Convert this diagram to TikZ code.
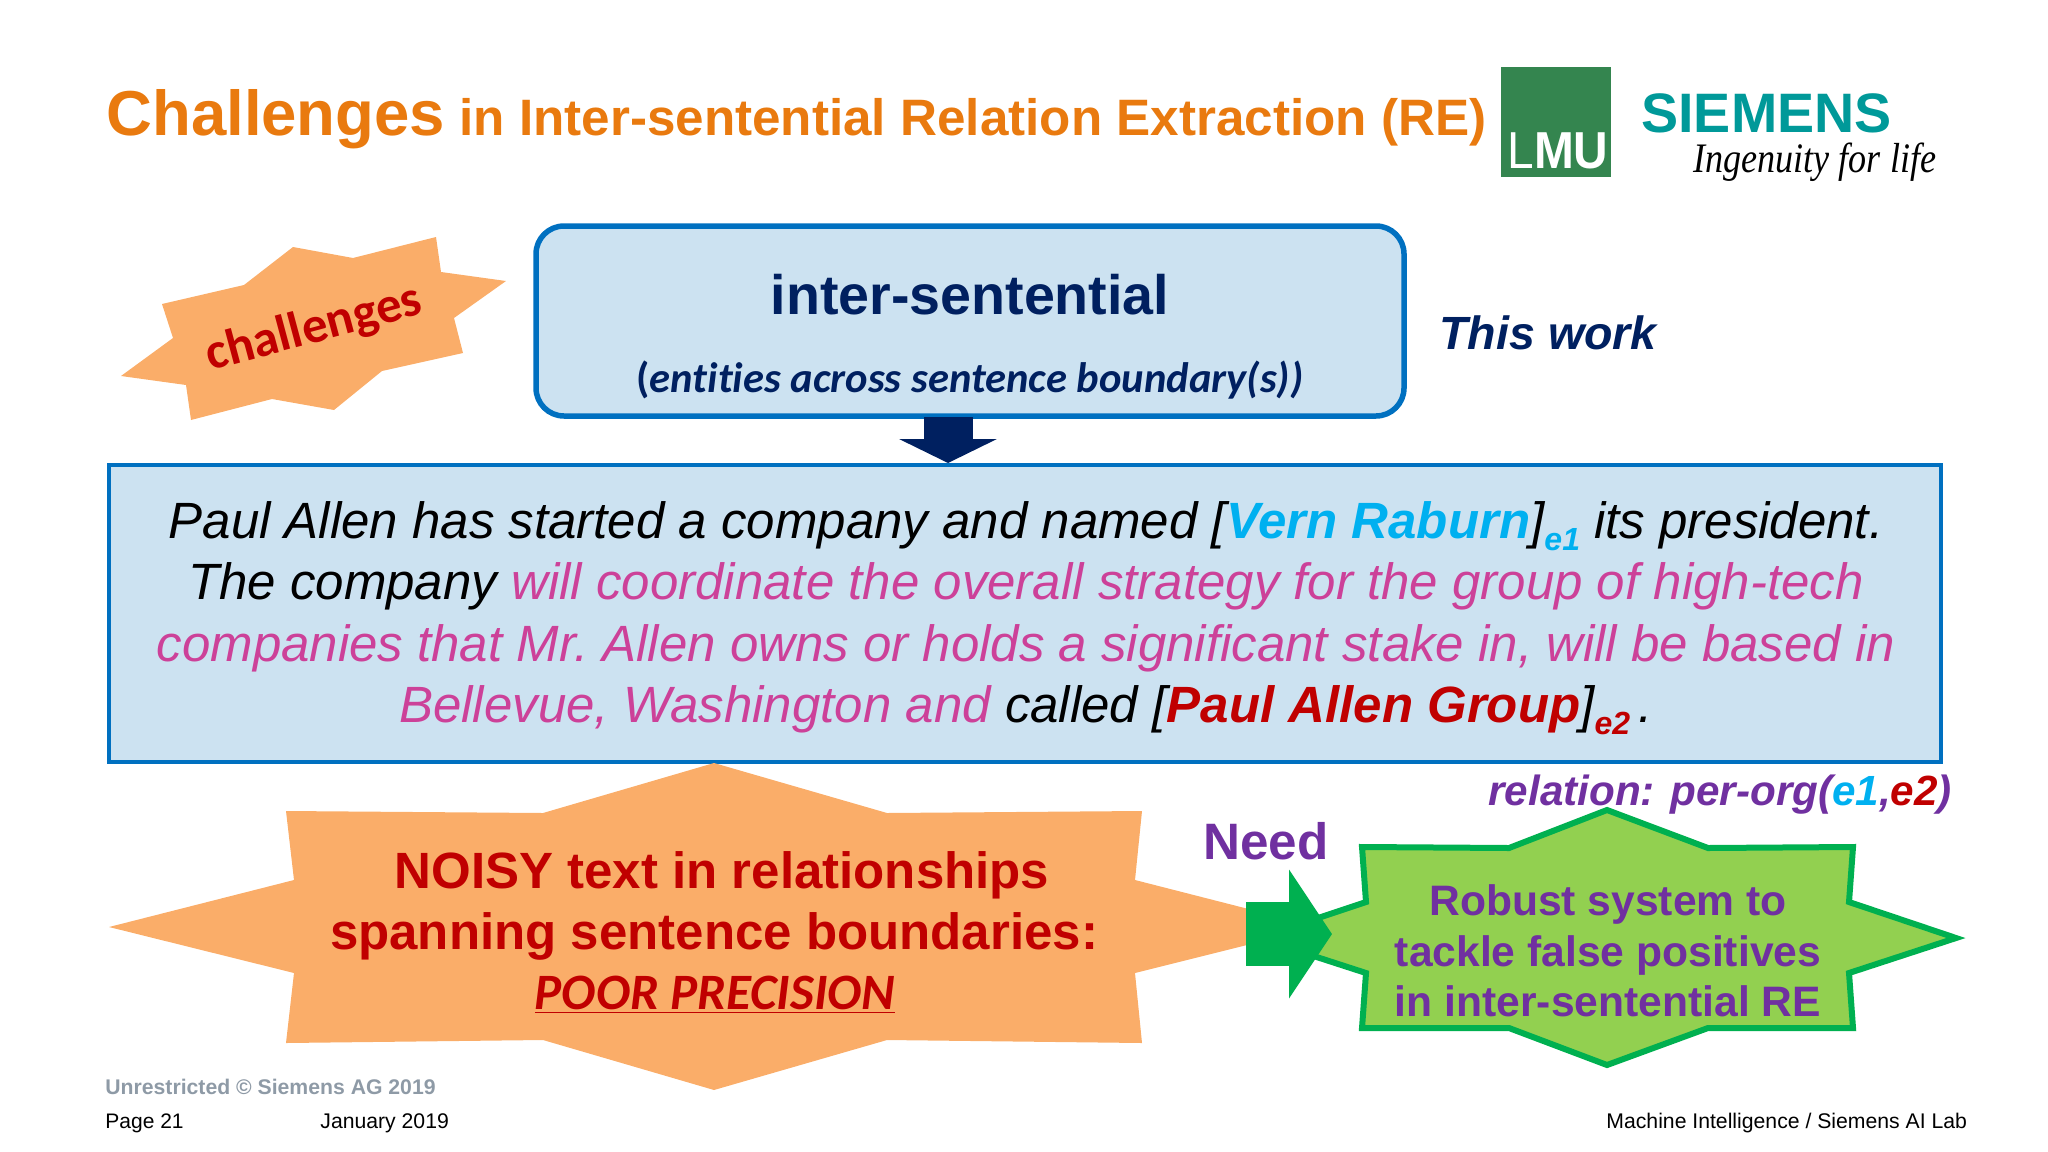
\documentclass[tikz,border=0pt]{standalone}
\usepackage{fontspec}
\setmainfont{Liberation Sans}
\newfontfamily\carlitofont[Ligatures=NoCommon]{Carlito}
\newfontfamily\serifsign{Liberation Serif}
\usetikzlibrary{calc, arrows.meta}
\definecolor{titleorange}{HTML}{E97A0F}
\definecolor{starorange}{HTML}{FAAD69}
\definecolor{boxblue}{HTML}{CCE2F1}
\definecolor{lineblue}{HTML}{0070C0}
\definecolor{navy}{HTML}{002060}
\definecolor{darkred}{HTML}{C00000}
\definecolor{skyblue}{HTML}{00B0F0}
\definecolor{pinktext}{HTML}{CC4199}
\definecolor{purpletext}{HTML}{7030A0}
\definecolor{stargreen}{HTML}{92D050}
\definecolor{linegreen}{HTML}{00B050}
\definecolor{lmugreen}{HTML}{34854F}
\definecolor{siemensteal}{HTML}{009999}
\definecolor{footgray}{HTML}{8E9AA6}
\newcommand{\fsz}[1]{\fontsize{#1}{#1}\selectfont}
\newcommand{\lowtag}[2]{\raisebox{-6pt}{\textcolor{#1}{\fsz{16}\bfseries #2}}}
\tikzset{
  plaintext/.style={inner sep=0pt,anchor=base west},
  midtext/.style={inner sep=0pt,anchor=base,align=center},
  orangestar/.style={fill=starorange},
  greenstar/.style={fill=stargreen,draw=linegreen,line width=3pt,miter limit=10},
  blockdown/.style={navy,line width=24.5pt,-{Triangle[length=12pt,width=48.5pt]}},
  blockright/.style={linegreen,line width=32pt,-{Triangle[length=21.5pt,width=63.5pt]}}
}
\begin{document}
\begin{tikzpicture}[x=0.5pt,y=-0.5pt]
\useasboundingbox (0,0) rectangle (2048,1151);
\draw node [plaintext,text=titleorange] at (106,135) (title)
  {\bfseries\fsz{31.75}Challenges\fsz{25.6} in Inter-sentential Relation Extraction (RE)};
\fill [lmugreen] (1501,67) rectangle (1611,177);
\draw node [plaintext,text=white,xscale=.92] at (1507,168) (lmu) {\fsz{26}L\bfseries MU};
\draw node [plaintext,text=siemensteal] at (1641,132) (siemens) {\bfseries\fsz{27.8}SIEMENS};
\draw node [plaintext,xscale=.86] at (1693,172) (claim) {\serifsign\itshape\fsz{21}Ingenuity for life};
\fill [orangestar] (436,237) -- (441,272) -- (506,281) -- (454,318) -- (463,353) -- (382,371)
  -- (334,410) -- (272,399) -- (191,420) -- (186,385) -- (121,376) -- (173,338) -- (162,304)
  -- (244,285) -- (293,247) -- (353,258) -- cycle;
\draw node [inner sep=0pt,rotate=15,text=darkred] at (314,329) (challenges)
  {\carlitofont\bfseries\fsz{25.5}challenges};
\draw node [draw=lineblue,fill=boxblue,line width=2.75pt,rounded corners=14pt,minimum width=434pt,
  minimum height=95pt,inner sep=0pt] at (970,321) (topbox) {};
\draw node [midtext,text=navy] at (970,314) (intertext) {\bfseries\fsz{27.8}inter-sentential};
\draw node [midtext,text=navy] at (970,392) (entitytext)
  {\carlitofont\fsz{21.3}\bfseries(\itshape entities across sentence boundary(s))};
\draw node [plaintext,text=navy] at (1439,349) (thiswork) {\bfseries\itshape\fsz{23.3}This work};
\coordinate (dnfrom) at (948,417);
\coordinate (dnto) at (948,463);
\draw [blockdown] (dnfrom) -- (dnto);
\draw node [draw=lineblue,fill=boxblue,line width=2pt,minimum width=916pt,minimum height=148.5pt,
  inner sep=0pt] at (1024.5,613.5) (sentbox) {};
\draw node [inner sep=0pt,align=center,font=\fontsize{25.5}{30.7}\selectfont\itshape] at (1026,618) (senttext)
  {Paul Allen has started a company and named [\textcolor{skyblue}{\bfseries Vern Raburn}]\lowtag{skyblue}{e1} its president.\\
   The company \textcolor{pinktext}{will coordinate the overall strategy for the group of high-tech}\\
   \textcolor{pinktext}{companies that Mr.\ Allen owns or holds a significant stake in, will be based in}\\
   \textcolor{pinktext}{Bellevue, Washington and} called [\textcolor{darkred}{\bfseries Paul Allen Group}]\lowtag{darkred}{e2}\,.};
\fill [orangestar] (714,763) -- (887,813) -- (1142,811) -- (1135,880) -- (1319,927) -- (1135,973)
  -- (1142,1043) -- (887,1040) -- (714,1090) -- (543,1040) -- (286,1043) -- (294,973) -- (109,927)
  -- (294,880) -- (286,811) -- (543,813) -- cycle;
\draw node [midtext,text=darkred] at (722,888) (noisyone) {\bfseries\fsz{25.5}NOISY text in relationships};
\draw node [midtext,text=darkred] at (714,949) (noisytwo) {\bfseries\fsz{25.5}spanning sentence boundaries:};
\draw node [midtext,text=darkred] at (715,1009) (noisythree)
  {\carlitofont\bfseries\itshape\fsz{25.5}\underline{POOR PRECISION}};
\draw [greenstar] (1607,810) -- (1708,848) -- (1853,847) -- (1849,902) -- (1956,938) -- (1849,973)
  -- (1853,1028) -- (1708,1028) -- (1607,1065) -- (1509,1028) -- (1362,1028) -- (1366,973)
  -- (1258,938) -- (1366,902) -- (1362,847) -- (1509,848) -- cycle;
\coordinate (needfrom) at (1246,934);
\coordinate (needto) at (1332,934);
\draw [blockright] (needfrom) -- (needto);
\draw node [plaintext,text=purpletext] at (1203,859) (need) {\bfseries\fsz{25.6}Need};
\draw node [midtext,text=purpletext] at (1608,915) (robustone) {\bfseries\fsz{21.3}Robust system to};
\draw node [midtext,text=purpletext] at (1608,966) (robusttwo) {\bfseries\fsz{21.3}tackle false positives};
\draw node [midtext,text=purpletext] at (1608,1016) (robustthree) {\bfseries\fsz{21.3}in inter-sentential RE};
\draw node [plaintext,text=purpletext] at (1488,805) (relation)
  {\bfseries\itshape\fsz{21.1}relation: per-org(\textcolor{skyblue}{e1},\textcolor{darkred}{e2})};
\draw node [plaintext,text=footgray] at (105,1094) (restricted) {\bfseries\fsz{10.6}Unrestricted © Siemens AG 2019};
\draw node [plaintext] at (105,1128) (pagenum) {\fsz{10.5}Page 21};
\draw node [plaintext] at (320,1128) (datetext) {\fsz{10.6}January 2019};
\draw node [plaintext] at (1606,1128) (labname) {\fsz{10.6}Machine Intelligence / Siemens AI Lab};
\end{tikzpicture}
\end{document}
